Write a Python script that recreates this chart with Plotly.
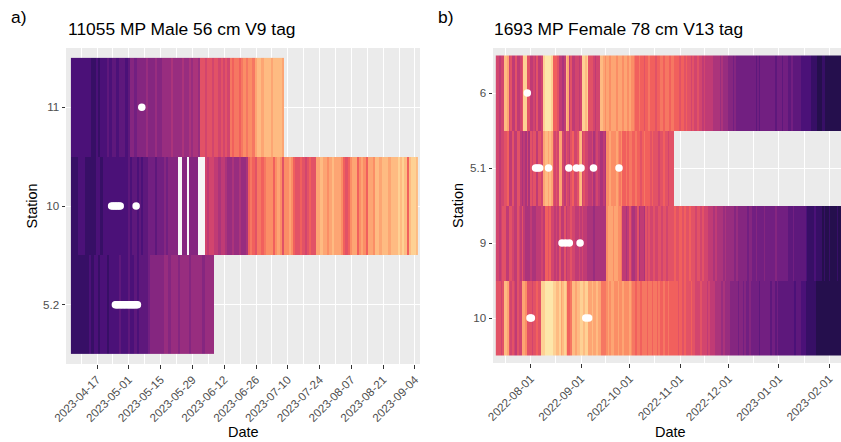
import pandas as pd
import plotly.graph_objects as go

# ---------------------------------------------------------------------------
# Data: daily water temperature (deg C) at each receiver station, plus the
# detection timestamps of the tagged fish.
# ---------------------------------------------------------------------------

# Fish 11055 (panel a), daily series start on this date
a_start = "2023-04-06"
a_stations = ["5.2", "10", "11"]          # bottom -> top

a_temp_11 = [6, 6, 6, 6, 6, 6, 6, 6, 6, 5, 5, 6, 5, 6, 6, 6,
             7, 6, 7, 7, 6, 7, 7, 7, 6, 7, 9, 9, 8, 9,
             9, 9, 9, 10, 9, 9, 9, 10, 9, 9, 10,
             10, 10, 10, 11, 10, 10, 10, 10, 11, 10,
             10, 11, 10, 11, 11, 10,
             14, 14, 13, 14, 14, 13, 14, 14, 13, 14, 13, 14, 13,
             16, 15, 16, 16, 15, 16, 17, 16, 17, 17, 16,
             18, 19, 19, 18, 19, 19, 19, 18, 19, 19, 19, 19, 18]

a_temp_10 = [5, 5, 5, 6, 6, 6, 5, 5, 5, 5, 5,
             6, 6, 5, 6, 6, 6,
             6, 6, 6, 6, 6, 6, 6, 6,
             7, 6, 7, 7, 6, 7, 6, 7, 7,
             8, 8, 8, 7, 8, 8, 8, 9, 8, 9, 9, 9, 9,
             None, None, 9, 9, None, 9, 9, 9, 9, None, None, None,
             13, 12, 13, 13, 12, 12, 11, 12, 12, 11,
             10, 10, 11, 10, 10, 11, 10, 10, 11,
             15, 16, 15, 14, 16, 16, 15, 16, 17,
             17, 17, 15, 17, 18, 17, 14, 17, 17, 18, 17, 15,
             14, 14, 15, 14, 13, 14, 15, 14, 14,
             18, 18, 19, 18, 18, 17, 18, 19, 18, 18, 18, 17,
             15, 14, 15,
             17, 18, 18, 15, 17, 18, 17, 15, 18, 18, 17,
             19, 19, 18, 19, 19, 19, 18, 19, 19, 19,
             20, 19, 20, 19, 15, 19, 20, 20, 19]

a_temp_52 = [5, 5, 5, 5, 5, 5, 5, 5,
             6, 5, 6, 6, 5, 6, 6, 6, 5, 6,
             6, 6, 6, 7, 6, 6, 6, 7, 6, 6, 7, 6, 7,
             7, 7, 7, 8,
             9, 9, 9, 9, 9,
             9, 10, 10, 9, 10, 10, 10, 9, 10, 10, 10, 10, 9, 10, 10, 10,
             10, 10, 9, 10, 10, 10, 10]

a_det_11 = ["2023-05-06 17:00"]
a_det_10 = ["2023-04-23 10:00", "2023-04-24 05:00", "2023-04-25 00:00",
            "2023-04-25 17:00", "2023-04-26 12:00", "2023-04-27 05:00",
            "2023-05-04 05:00"]
a_det_52 = ["2023-04-25 02:00", "2023-04-25 14:00", "2023-04-26 03:00",
            "2023-04-26 15:00", "2023-04-27 08:00", "2023-04-27 20:00",
            "2023-04-28 10:00", "2023-04-29 01:00", "2023-04-29 13:00",
            "2023-04-30 06:00", "2023-04-30 18:00", "2023-05-01 09:00",
            "2023-05-01 22:00", "2023-05-02 11:00", "2023-05-03 00:00",
            "2023-05-03 12:00", "2023-05-04 04:00", "2023-05-04 19:00"]

a_ticks = ["2023-04-17", "2023-05-01", "2023-05-15", "2023-05-29",
           "2023-06-12", "2023-06-26", "2023-07-10", "2023-07-24",
           "2023-08-07", "2023-08-21", "2023-09-04"]

# Fish 1693 (panel b), daily series start on this date
b_start = "2022-07-11"
b_stations = ["10", "9", "5.1", "6"]      # bottom -> top

b_temp_6 = [13, 13, 12, 13, 13, 19, 19, 18, 13, 14,
            12, 12, 14, 12, 12, 13, 14, 20, 20, 14,
            14, 12, 12, 13, 12, 14, 12, 12, 13,
            20, 21, 21, 21, 21, 20, 15, 15, 15, 14,
            12, 12, 11, 12, 19, 18, 12, 14, 12, 12,
            13, 13, 12, 13, 20, 20, 19, 20, 14, 14, 14,
            13, 12, 13, 13, 19, 19, 18,
            17, 18, 18, 17, 18, 18, 18, 17, 18, 18, 18, 17, 18, 18, 17, 18, 17, 17,
            16, 15, 15, 16, 15, 15, 14, 15, 15, 16, 15, 15, 15, 14, 15, 15,
            16, 16, 15, 16, 16, 16, 15, 16, 16, 15, 15, 15, 14, 15, 15, 14, 15,
            14, 14, 13, 14, 13, 13, 14, 13, 13,
            12, 13, 12, 12, 12, 12, 12,
            11, 11, 11, 11, 10, 11,
            10, 10, 10, 9, 9, 9,
            8, 9, 8, 8, 8, 8, 8, 8, 8, 8, 8, 8,
            8, 8, 7, 8, 7, 8, 8, 8,
            8, 8, 8, 8, 8, 8, 7, 8,
            8, 8, 7, 8, 8, 8, 7, 7, 8, 7, 7, 7,
            7, 7, 6, 6, 6, 6, 6, 6,
            5, 5, 5, 5, 4, 4,
            4, 5, 5, 4, 4, 4,
            4, 4, 4, 4, 4, 4, 4, 4, 4]

b_temp_51 = [13, 13, 12, 13, 13, 14, 14, 15,
             12, 12, 14, 12, 12, 14, 14, 12,
             11, 12, 11, 13, 11,
             14, 13, 14, 14, 12, 14, 14, 13,
             18, 19, 19, 18, 19, 18,
             14, 13, 14, 13, 18, 18,
             13, 12, 14, 13, 12, 14, 15, 13,
             13, 14, 18, 19, 13, 14, 13,
             13, 12, 12, 13, 11, 12, 13, 12, 11, 11, 12, 11,
             17, 17, 18, 17, 17, 17, 18, 17, 16, 17,
             15, 15, 16, 15, 16, 16, 15, 15, 16, 15, 15, 14, 15, 16, 15, 15, 15, 14, 15,
             14, 14, 14, 13, 14, 14, 15, 14, 14, 13, 14, 14, 14]

b_temp_9 = [13, 13, 12, 13,
            14, 14, 12, 12, 14, 14, 13, 12, 12, 14, 13, 12, 14, 12,
            11, 11, 11, 12, 11, 11, 11, 12,
            12, 12, 13, 12, 15, 15, 14, 15, 13, 13, 12, 13,
            12, 14, 12, 12, 14, 12, 13, 13, 14, 13, 13, 12,
            12, 13, 12, 13, 12, 12,
            11, 11, 11, 11, 10, 11, 11, 11, 11, 11, 11, 11,
            17, 18, 18, 18, 17, 18, 18, 17, 17, 16,
            12, 12, 11, 12, 14, 12, 11, 11, 12, 14, 11, 12, 12, 11, 14,
            13, 14, 13, 13, 14, 13, 13, 14, 14, 13, 14, 14, 13, 14, 14, 14,
            14, 15, 14, 14, 15, 15, 14, 15, 14, 14, 15, 14, 14, 14, 13, 14, 14, 13, 14, 13, 13, 13,
            12, 12, 12, 11, 12, 11, 11, 11, 11, 10, 11, 10, 10,
            10, 10, 10, 9, 10, 9, 9, 9, 9, 9, 9, 8, 9, 9,
            8, 8, 9, 8, 8, 8, 8, 9, 8, 8, 8, 8, 8, 8, 9, 8, 8, 8, 8, 8, 8,
            8, 7, 7, 7, 8, 7, 7, 7, 7, 7, 7, 7,
            6, 5, 5, 5, 5, 6, 5, 5,
            5, 5, 4, 5, 4, 4, 5, 4, 4, 4, 4, 5, 4, 4, 4, 4]

b_temp_10 = [14, 14, 14, 13, 14, 19, 19, 18,
             14, 13, 14, 13, 12, 14, 13, 13, 18, 18, 17,
             14, 14, 14, 13, 14, 14, 15, 14, 14,
             20, 20, 21, 21, 21, 21, 21, 20,
             20, 19, 19, 20, 18, 19, 20, 19, 15, 15, 16,
             19, 19, 18, 19, 19, 20, 20, 19, 20, 20,
             18, 18, 19, 18, 18, 19, 18, 18, 16, 16, 16,
             17, 18, 17, 18, 18, 17, 17, 18, 17, 17, 18, 17, 17, 17, 18, 17,
             16, 16, 15, 16, 16, 15, 16, 16, 16, 15, 16, 16, 15, 16,
             16, 15, 16, 15, 15, 16, 15, 15, 16, 15, 15, 15,
             15, 15, 14, 15, 15, 14, 15, 14, 14, 14, 15, 14,
             14, 13, 13, 13, 14, 13, 13, 13, 12, 13, 12, 12,
             12, 11, 11, 11, 11, 10, 11, 10, 10,
             10, 9, 9, 9, 9, 9, 8, 9, 9, 8, 9, 8, 8, 9, 8,
             8, 8, 8, 8, 7, 8, 8, 8, 8, 8, 8, 7, 8, 8, 7, 8, 7, 7,
             7, 7, 7, 7, 7, 7, 7, 7, 6, 7, 7, 7, 6, 6,
             6, 5, 5, 5, 5, 5, 5, 4,
             4, 4, 4, 4, 4, 4, 4, 4, 4, 4, 4, 4, 4, 4, 4, 4, 4]

b_det_6 = ["2022-07-29 22:00"]
b_det_51 = ["2022-08-04 00:00", "2022-08-05 05:00", "2022-08-06 12:00",
            "2022-08-12 00:00", "2022-08-24 12:00", "2022-08-29 05:00",
            "2022-09-01 00:00", "2022-09-08 17:00", "2022-09-24 10:00"]
b_det_9 = ["2022-08-20 07:00", "2022-08-22 12:00", "2022-08-24 19:00",
           "2022-08-31 10:00"]
b_det_10 = ["2022-07-31 14:00", "2022-08-01 10:00",
            "2022-09-03 22:00", "2022-09-05 17:00"]

b_ticks = ["2022-08-01", "2022-09-01", "2022-10-01", "2022-11-01",
           "2022-12-01", "2023-01-01", "2023-02-01"]

# ---------------------------------------------------------------------------
# Figure geometry and styling
# ---------------------------------------------------------------------------
W, H = 841, 442
FONT = "Liberation Sans, Arial, Helvetica, sans-serif"
TICK_FONT = dict(family=FONT, size=11.6, color="#4D4D4D")
T_MIN, T_MAX = 1, 22   # limits of the shared temperature colour scale


def px_x(v):
    return v / W


def px_y(v):
    return 1 - v / H


def build_grid(rows):
    n = max(len(r) for r in rows)
    z = [list(r) + [None] * (n - len(r)) for r in rows]
    gaps = [[1 if (i < len(r) and r[i] is None) else None for i in range(n)]
            for r in rows]
    return n, z, gaps


def minor_between(ticks):
    """Minor gridline positions halfway between (and just outside) the ticks."""
    t = pd.to_datetime(ticks)
    monthly = t[0].day == 1
    prev = t[0] - (pd.DateOffset(months=1) if monthly else (t[1] - t[0]))
    nxt = t[-1] + (pd.DateOffset(months=1) if monthly else (t[-1] - t[-2]))
    edges = [prev] + list(t) + [nxt]
    mids = [edges[k] + (edges[k + 1] - edges[k]) / 2
            for k in range(len(edges) - 1)]
    return [m.strftime("%Y-%m-%d %H:%M") for m in mids]


fig = go.Figure()


def add_panel(start, stations, rows, detections, xa, ya):
    n, z, gaps = build_grid(rows)
    days = pd.date_range(start, periods=n, freq="D")
    fig.add_trace(go.Heatmap(
        x=days, y=stations, z=z, colorscale="Magma", zmin=T_MIN, zmax=T_MAX,
        showscale=False, hoverongaps=False, xaxis=xa, yaxis=ya))
    if any(v is not None for row in gaps for v in row):
        fig.add_trace(go.Heatmap(
            x=days, y=stations, z=gaps, zmin=0, zmax=1,
            colorscale=[[0, "#F7F7F7"], [1, "#F7F7F7"]],
            showscale=False, hoverongaps=False, xaxis=xa, yaxis=ya))
    for st, times in zip(stations, detections):
        fig.add_trace(go.Scatter(
            x=pd.to_datetime(times), y=[st] * len(times), mode="markers",
            marker=dict(color="white", size=7.5, line=dict(width=0)),
            showlegend=False, xaxis=xa, yaxis=ya))


add_panel(a_start, a_stations, [a_temp_52, a_temp_10, a_temp_11],
          [a_det_52, a_det_10, a_det_11], "x", "y")
add_panel(b_start, b_stations, [b_temp_10, b_temp_9, b_temp_51, b_temp_6],
          [b_det_10, b_det_9, b_det_51, b_det_6], "x2", "y2")


def x_axis(domain, anchor, rng, ticks, minor):
    return dict(
        domain=domain, anchor=anchor, type="date", range=rng,
        tickmode="array", tickvals=ticks, ticktext=ticks, tickangle=-45,
        tickfont=TICK_FONT, ticks="outside", ticklen=3.5, tickwidth=1,
        tickcolor="#333333", showgrid=True, gridcolor="white", gridwidth=1.3,
        minor=dict(tickvals=minor, showgrid=True, gridcolor="white",
                   gridwidth=0.7, ticks=""),
        zeroline=False, showline=False, automargin=False, fixedrange=True)


def y_axis(domain, anchor, stations):
    return dict(
        domain=domain, anchor=anchor, type="category",
        categoryorder="array", categoryarray=stations,
        range=[-0.6, len(stations) - 0.4],
        tickfont=TICK_FONT, ticks="outside", ticklen=3.5, tickwidth=1,
        tickcolor="#333333", showgrid=True, gridcolor="white", gridwidth=1.3,
        zeroline=False, showline=False, automargin=False, fixedrange=True)


fig.update_layout(
    width=W, height=H,
    margin=dict(l=0, r=0, t=0, b=0),
    paper_bgcolor="white", plot_bgcolor="#EBEBEB",
    showlegend=False,
    font=dict(family=FONT, color="black"),
    xaxis=x_axis([px_x(66), px_x(420)], "y",
                 ["2023-04-03 08:00", "2023-09-06 05:00"],
                 a_ticks, minor_between(a_ticks)),
    yaxis=y_axis([px_y(364), px_y(48)], "x", a_stations),
    xaxis2=x_axis([px_x(493), 1.0], "y2",
                  ["2022-07-08 18:30", "2023-02-08 05:00"],
                  b_ticks, minor_between(b_ticks)),
    yaxis2=y_axis([px_y(363), px_y(48)], "x2", b_stations),
)


def label(text, x, y, size, xanchor="left", yanchor="middle", angle=0):
    fig.add_annotation(
        text=text, x=px_x(x), y=px_y(y), xref="paper", yref="paper",
        xanchor=xanchor, yanchor=yanchor, textangle=angle, showarrow=False,
        font=dict(family=FONT, size=size, color="black"))


label("a)", 9, 17, 17.4)
label("b)", 436, 17, 17.4)
label("11055 MP Male 56 cm V9 tag", 66, 29.5, 17.4)
label("1693 MP Female 78 cm V13 tag", 492, 29.5, 17.4)
label("Station", 31.5, 206, 14.5, xanchor="center", angle=-90)
label("Station", 457.5, 205.5, 14.5, xanchor="center", angle=-90)
label("Date", 243, 431.5, 14.5, xanchor="center")
label("Date", 670, 431.5, 14.5, xanchor="center")

fig.write_html("out.html")
